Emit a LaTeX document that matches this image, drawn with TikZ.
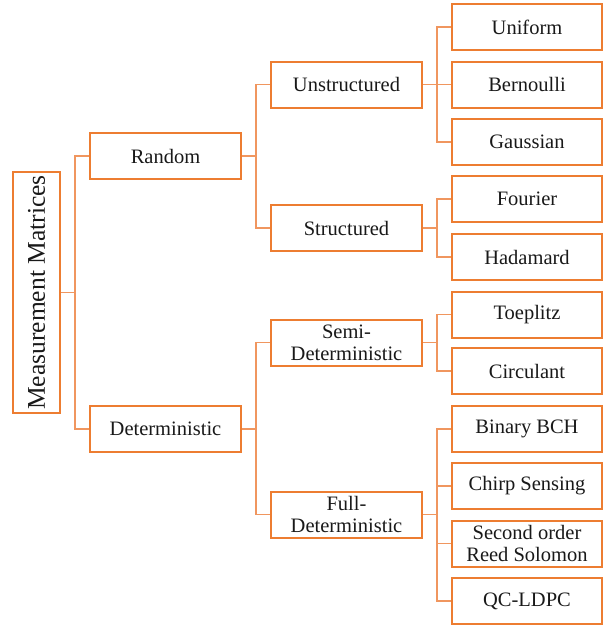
\documentclass[tikz,border=0pt]{standalone}
\usepackage{fontspec}
\setmainfont{Liberation Serif}
\definecolor{org}{RGB}{237,125,49}
\definecolor{orgl}{RGB}{240,150,95}
\definecolor{txt}{RGB}{25,25,25}
\begin{document}
\begin{tikzpicture}[x=1pt,y=-1pt,
 box/.style={draw=org, line width=2pt, minimum height=46pt, inner sep=0pt, align=center, text=txt, font=\fontsize{20.5}{22}\selectfont},
 mid/.style={box, minimum width=151pt},
 leaf/.style={box, minimum width=150pt},
 con/.style={draw=orgl, line width=1.3pt}]
\useasboundingbox (0,0) rectangle (607,625);
\node[box, minimum width=241pt, minimum height=47pt, rotate=90, font=\fontsize{25.5}{27}\selectfont] (mm) at (36.5,292.5) {Measurement Matrices};
\node[mid] (rand) at (165.5,156) {Random};
\node[mid] (det) at (165.5,429) {Deterministic};
\node[mid] (unst) at (346.5,84.5) {Unstructured};
\node[mid] (str) at (346.5,228) {Structured};
\node[mid] (semi) at (346.5,342.5) {Semi-\\Deterministic};
\node[mid] (full) at (346.5,514.5) {Full-\\Deterministic};
\node[leaf] (uni) at (527,27) {Uniform};
\node[leaf] (ber) at (527,84.5) {Bernoulli};
\node[leaf] (gau) at (527,142) {Gaussian};
\node[leaf] (fou) at (527,199) {Fourier};
\node[leaf] (had) at (527,257) {Hadamard};
\node[leaf] (toe) at (527,314.5) {Toeplitz};
\node[leaf] (cir) at (527,371) {Circulant};
\node[leaf] (bch) at (527,429) {Binary BCH};
\node[leaf] (chirp) at (527,486) {Chirp Sensing};
\node[leaf] (rs) at (527,543.5) {Second order\\Reed Solomon};
\node[leaf] (qc) at (527,601) {QC-LDPC};
\coordinate (t0) at (75,0);
\coordinate (t1) at (256,0);
\coordinate (t2) at (437,0);
\draw[con] (mm.south) -- (mm.south -| t0);
\draw[con] (rand.west) -- (rand.west -| t0) -- (det.west -| t0) -- (det.west);
\draw[con] (rand.east) -- (rand.east -| t1);
\draw[con] (unst.west) -- (unst.west -| t1) -- (str.west -| t1) -- (str.west);
\draw[con] (det.east) -- (det.east -| t1);
\draw[con] (semi.west) -- (semi.west -| t1) -- (full.west -| t1) -- (full.west);
\draw[con] (unst.east) -- (unst.east -| t2);
\draw[con] (uni.west) -- (uni.west -| t2) -- (gau.west -| t2) -- (gau.west);
\draw[con] (ber.west) -- (ber.west -| t2);
\draw[con] (str.east) -- (str.east -| t2);
\draw[con] (fou.west) -- (fou.west -| t2) -- (had.west -| t2) -- (had.west);
\draw[con] (semi.east) -- (semi.east -| t2);
\draw[con] (toe.west) -- (toe.west -| t2) -- (cir.west -| t2) -- (cir.west);
\draw[con] (full.east) -- (full.east -| t2);
\draw[con] (bch.west) -- (bch.west -| t2) -- (qc.west -| t2) -- (qc.west);
\draw[con] (chirp.west) -- (chirp.west -| t2);
\draw[con] (rs.west) -- (rs.west -| t2);
\end{tikzpicture}
\end{document}
